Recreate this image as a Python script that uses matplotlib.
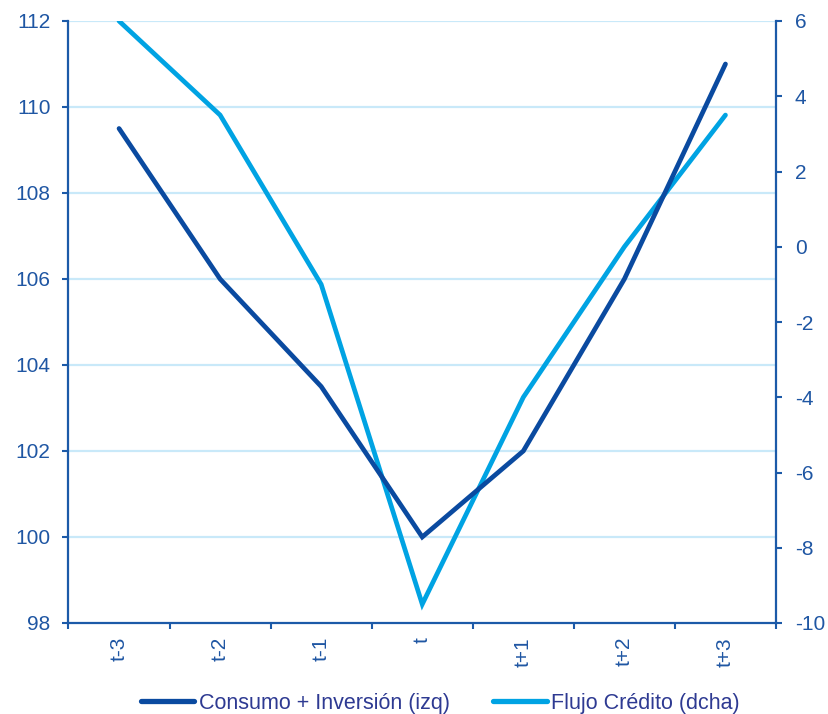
import matplotlib
matplotlib.use("Agg")
import matplotlib.pyplot as plt
from matplotlib.lines import Line2D
import numpy as np

plt.rcParams['font.family'] = ['Liberation Sans', 'DejaVu Sans']
plt.rcParams['axes.unicode_minus'] = False

categories = ["t-3", "t-2", "t-1", "t", "t+1", "t+2", "t+3"]
consumo_inversion = [109.5, 106.0, 103.5, 100.0, 102.0, 106.0, 111.0]
flujo_credito = [6.0, 3.5, -1.0, -9.5, -4.0, 0.0, 3.5]
left_ticks = [98, 100, 102, 104, 106, 108, 110, 112]
right_ticks = [-10, -8, -6, -4, -2, 0, 2, 4, 6]

dark_blue = "#0a4aa0"
light_blue = "#00a3e3"
axis_color = "#1c5aa8"
text_color = "#1f56a3"
legend_text = "#2e3a92"
grid_color = "#c9e9f9"

fig = plt.figure(figsize=(8.29, 7.14), dpi=100)
ax = fig.add_axes([68.5 / 829, (714 - 623) / 714, (776 - 68.5) / 829, (623 - 21) / 714])
ax2 = ax.twinx()

x = np.arange(len(categories)) + 0.5

ax.set_xlim(0, len(categories))
ax.set_ylim(98, 112)
ax2.set_ylim(-10, 6)

for v in left_ticks[1:]:
    ax.axhline(v, color=grid_color, lw=1.6, zorder=0)

# Right-axis series first, then the left-axis series on top using the left scale
ax2.plot(x, flujo_credito, color=light_blue, lw=3.4, solid_capstyle='round',
         solid_joinstyle='miter', zorder=3)
ax2.plot(x, consumo_inversion, color=dark_blue, lw=3.4, solid_capstyle='round',
         solid_joinstyle='miter', zorder=4, transform=ax.transData)

ax.set_yticks(left_ticks)
ax2.set_yticks(right_ticks)
ax.set_xticks(np.arange(len(categories) + 1))
ax.set_xticklabels([])
ax.set_xticks(x, minor=True)
ax.set_xticklabels(categories, minor=True, rotation=90)

fs = 15
ax.tick_params(axis='x', which='major', length=4.5, width=1.5, color=axis_color, direction='out')
ax.tick_params(axis='x', which='minor', length=0, pad=10, labelsize=fs, labelcolor=text_color)
ax.tick_params(axis='y', length=4.5, width=1.5, color=axis_color, labelsize=fs,
               labelcolor=text_color, pad=8.5)
ax2.tick_params(axis='y', length=4.5, width=1.5, color=axis_color, labelsize=fs,
                labelcolor=text_color, pad=9)

for a in (ax, ax2):
    a.spines['top'].set_visible(False)
    for side in ('left', 'right', 'bottom'):
        a.spines[side].set_color(axis_color)
        a.spines[side].set_linewidth(1.6)
ax.spines['right'].set_visible(False)
ax2.spines['left'].set_visible(False)
ax2.spines['bottom'].set_visible(False)

for lbl in ax.get_xticklabels(minor=True):
    lbl.set_va('top')

handles = [Line2D([0], [0], color=dark_blue, lw=3.8, solid_capstyle='round'),
           Line2D([0], [0], color=light_blue, lw=3.8, solid_capstyle='round')]
leg = fig.legend(handles, ["Consumo + Inversión (izq)", "Flujo Crédito (dcha)"],
                 loc='center', bbox_to_anchor=(440 / 829, 1 - 703 / 714), ncol=2,
                 frameon=False, fontsize=15.5, handlelength=2.5, handletextpad=0.2,
                 columnspacing=2.0, labelcolor=legend_text)

fig.savefig("out.png", dpi=100)
